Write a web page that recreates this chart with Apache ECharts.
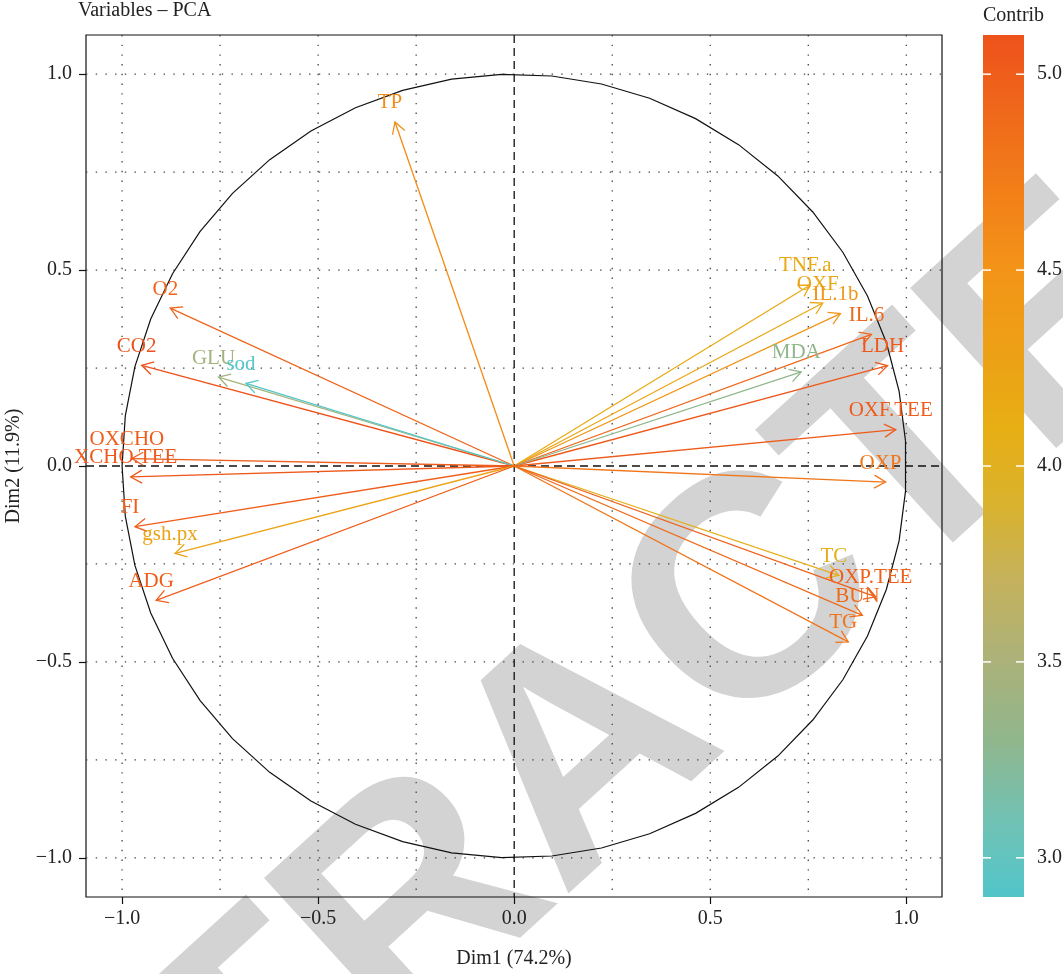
<!DOCTYPE html>
<html>
<head>
<meta charset="utf-8">
<script src="https://cdn.jsdelivr.net/npm/echarts@6/dist/echarts.min.js"></script>
<style>
  html, body { margin: 0; padding: 0; background: #ffffff; }
  #chart { width: 1063px; height: 974px; }
</style>
</head>
<body>
<div id="chart"></div>
<script>
// PCA variable coordinates on the first two dimensions, with their contributions
const variables = ['TP', 'O2', 'CO2', 'GLU', 'sod', 'OXCHO', 'XCHO.TEE', 'FI', 'gsh.px', 'ADG',
                   'TNF.a', 'OXF', 'IL.1b', 'IL.6', 'LDH', 'MDA', 'OXF.TEE', 'OXP', 'TC', 'OXP.TEE', 'BUN', 'TG'];
const dim1 = [-0.304, -0.877, -0.950, -0.754, -0.684, -0.975, -0.978, -0.967, -0.865, -0.913,
               0.755, 0.787, 0.832, 0.911, 0.952, 0.732, 0.973, 0.947, 0.828, 0.922, 0.888, 0.852];
const dim2 = [ 0.878, 0.403, 0.257, 0.227, 0.211, 0.019, -0.028, -0.155, -0.223, -0.343,
               0.462, 0.416, 0.389, 0.336, 0.256, 0.240, 0.093, -0.041, -0.279, -0.334, -0.381, -0.449];
const contrib = [4.58, 4.95, 5.10, 3.45, 2.90, 5.00, 5.05, 5.00, 4.25, 5.00,
                 4.15, 4.22, 4.45, 4.92, 5.05, 3.30, 5.02, 4.78, 4.05, 4.98, 4.88, 4.80];

// Axis ticks and grid
const axisTicks = [-1, -0.5, 0, 0.5, 1];
const gridValues = [-1, -0.75, -0.5, -0.25, 0.25, 0.5, 0.75, 1];
const contribTicks = [3.0, 3.5, 4.0, 4.5, 5.0];
const contribRange = [2.9, 5.1];

// Colour ramp for contributions, low to high
const contribColors = ['#52C5C9', '#72C2B4', '#90B68C', '#ABB27A', '#C3B15E', '#DAB32E',
                       '#E7AE14', '#EDA016', '#F39418', '#F27F18', '#EF691B', '#EE521B'];

const FONT = '"Liberation Serif", "DejaVu Serif", serif';
const TEXT = '#222222';
const chart = echarts.init(document.getElementById('chart'), null, { renderer: 'canvas' });

const fmt = v => (v < 0 ? '\u2212' : '') + Math.abs(v).toFixed(1);

const arrowData = variables.map((n, i) => [dim1[i], dim2[i], contrib[i]]);

function renderArrow(params, api) {
  const o = api.coord([0, 0]);
  const p = api.coord([api.value(0), api.value(1)]);
  const color = api.visual('color');
  const ang = Math.atan2(p[1] - o[1], p[0] - o[0]);
  const L = 13, a = Math.PI / 6;
  const h1 = [p[0] - L * Math.cos(ang - a), p[1] - L * Math.sin(ang - a)];
  const h2 = [p[0] - L * Math.cos(ang + a), p[1] - L * Math.sin(ang + a)];
  const style = { stroke: color, lineWidth: 1.3, fill: null };
  return {
    type: 'group',
    children: [
      { type: 'line', shape: { x1: o[0], y1: o[1], x2: p[0], y2: p[1] }, style: style },
      { type: 'polyline', shape: { points: [h1, p, h2] }, style: style },
      { type: 'text', x: p[0] - 5, y: p[1] - 19,
        style: { text: variables[params.dataIndex], fill: color, font: '21px ' + FONT,
                 align: 'center', verticalAlign: 'middle' } }
    ]
  };
}

// Dotted reference grid plus dashed zero lines
function renderGrid(params, api) {
  const cs = params.coordSys;
  const children = [];
  const dotted = { stroke: '#444', lineWidth: 1.3, lineDash: [1.4, 8.3] };
  gridValues.forEach(v => {
    const x = api.coord([v, 0])[0];
    const y = api.coord([0, v])[1];
    children.push({ type: 'line', shape: { x1: x, y1: cs.y, x2: x, y2: cs.y + cs.height }, style: dotted });
    children.push({ type: 'line', shape: { x1: cs.x, y1: y, x2: cs.x + cs.width, y2: y }, style: dotted });
  });
  const o = api.coord([0, 0]);
  const dashed = { stroke: '#111', lineWidth: 1.3, lineDash: [8, 5] };
  children.push({ type: 'line', shape: { x1: o[0], y1: cs.y, x2: o[0], y2: cs.y + cs.height }, style: dashed });
  children.push({ type: 'line', shape: { x1: cs.x, y1: o[1], x2: cs.x + cs.width, y2: o[1] }, style: dashed });
  return { type: 'group', children: children };
}

// Correlation circle of radius 1, drawn as a polygon
function renderCircle(params, api) {
  const n = 49, start = Math.PI / 49;
  const pts = [];
  for (let k = 0; k <= n; k++) {
    const t = start + 2 * Math.PI * k / n;
    pts.push(api.coord([Math.cos(t), Math.sin(t)]));
  }
  return { type: 'polyline', shape: { points: pts }, style: { stroke: '#111', lineWidth: 1.2, fill: null } };
}

// Colour bar for the contribution scale
function renderColorbar(params, api) {
  const top = api.coord([0, contribRange[1]]);
  const bot = api.coord([1, contribRange[0]]);
  const stops = contribColors.slice().reverse().map((c, i, arr) => ({ offset: i / (arr.length - 1), color: c }));
  const children = [{
    type: 'rect',
    shape: { x: top[0], y: top[1], width: bot[0] - top[0], height: bot[1] - top[1] },
    style: { fill: new echarts.graphic.LinearGradient(0, 0, 0, 1, stops) }
  }];
  contribTicks.forEach(v => {
    const y = api.coord([0, v])[1];
    const ws = { stroke: '#ffffff', lineWidth: 1.5 };
    children.push({ type: 'line', shape: { x1: top[0], y1: y, x2: top[0] + 8, y2: y }, style: ws });
    children.push({ type: 'line', shape: { x1: bot[0] - 8, y1: y, x2: bot[0], y2: y }, style: ws });
  });
  return { type: 'group', children: children };
}

const option = {
  backgroundColor: '#ffffff',
  animation: false,
  title: [
    { text: 'Variables \u2013 PCA', left: 78, top: 1, padding: 0,
      textStyle: { fontFamily: FONT, fontSize: 20, fontWeight: 'normal', color: TEXT } },
    { text: 'Contrib', left: 983, top: 6, padding: 0,
      textStyle: { fontFamily: FONT, fontSize: 20, fontWeight: 'normal', color: TEXT } }
  ],
  graphic: [{
    type: 'text', z: -10, x: 588, y: 758, rotation: 0.74, silent: true,
    style: { text: 'RETRACTED', font: 'bold 315px "Liberation Sans", Arial, sans-serif',
             fill: '#D3D3D3', align: 'center', verticalAlign: 'middle' }
  }],
  grid: [
    { left: 86, top: 35, width: 856, height: 862, show: true, borderColor: '#111', borderWidth: 1.2,
      backgroundColor: 'transparent', containLabel: false, outerBoundsMode: 'none' },
    { left: 983, top: 35, width: 41, height: 862, show: false, containLabel: false, outerBoundsMode: 'none' }
  ],
  xAxis: [
    { type: 'value', gridIndex: 0, min: -1.092, max: 1.091,
      name: 'Dim1 (74.2%)', nameLocation: 'middle', nameGap: 52,
      nameTextStyle: { fontFamily: FONT, fontSize: 20, color: TEXT },
      axisLine: { show: false, onZero: false },
      axisTick: { show: true, length: 7, customValues: axisTicks, lineStyle: { color: '#111', width: 1.2 } },
      axisLabel: { customValues: axisTicks, formatter: fmt, margin: 12,
                   fontFamily: FONT, fontSize: 20, color: TEXT },
      splitLine: { show: false } },
    { type: 'value', gridIndex: 1, min: 0, max: 1, show: false }
  ],
  yAxis: [
    { type: 'value', gridIndex: 0, min: -1.1, max: 1.1,
      name: 'Dim2 (11.9%)', nameLocation: 'middle', nameGap: 62,
      nameTextStyle: { fontFamily: FONT, fontSize: 20, color: TEXT },
      axisLine: { show: false, onZero: false },
      axisTick: { show: true, length: 7, customValues: axisTicks, lineStyle: { color: '#111', width: 1.2 } },
      axisLabel: { customValues: axisTicks, formatter: fmt, margin: 14,
                   fontFamily: FONT, fontSize: 20, color: TEXT },
      splitLine: { show: false } },
    { type: 'value', gridIndex: 1, min: contribRange[0], max: contribRange[1], position: 'right',
      axisLine: { show: false }, axisTick: { show: false }, splitLine: { show: false },
      axisLabel: { customValues: contribTicks, formatter: v => v.toFixed(1), margin: 13,
                   fontFamily: FONT, fontSize: 20, color: TEXT } }
  ],
  visualMap: {
    type: 'continuous', show: false, min: contribRange[0], max: contribRange[1],
    dimension: 2, seriesIndex: 2, inRange: { color: contribColors }
  },
  series: [
    { type: 'custom', name: 'grid', xAxisIndex: 0, yAxisIndex: 0, data: [[0, 0]],
      renderItem: renderGrid, silent: true, z: 1 },
    { type: 'custom', name: 'circle', xAxisIndex: 0, yAxisIndex: 0, data: [[0, 0]],
      renderItem: renderCircle, silent: true, z: 2 },
    { type: 'custom', name: 'variables', xAxisIndex: 0, yAxisIndex: 0, data: arrowData,
      encode: { x: 0, y: 1 }, renderItem: renderArrow, clip: false, z: 3 },
    { type: 'custom', name: 'colorbar', xAxisIndex: 1, yAxisIndex: 1, data: [[0, 0]],
      renderItem: renderColorbar, silent: true, z: 2 }
  ]
};

chart.setOption(option);
</script>
</body>
</html>
